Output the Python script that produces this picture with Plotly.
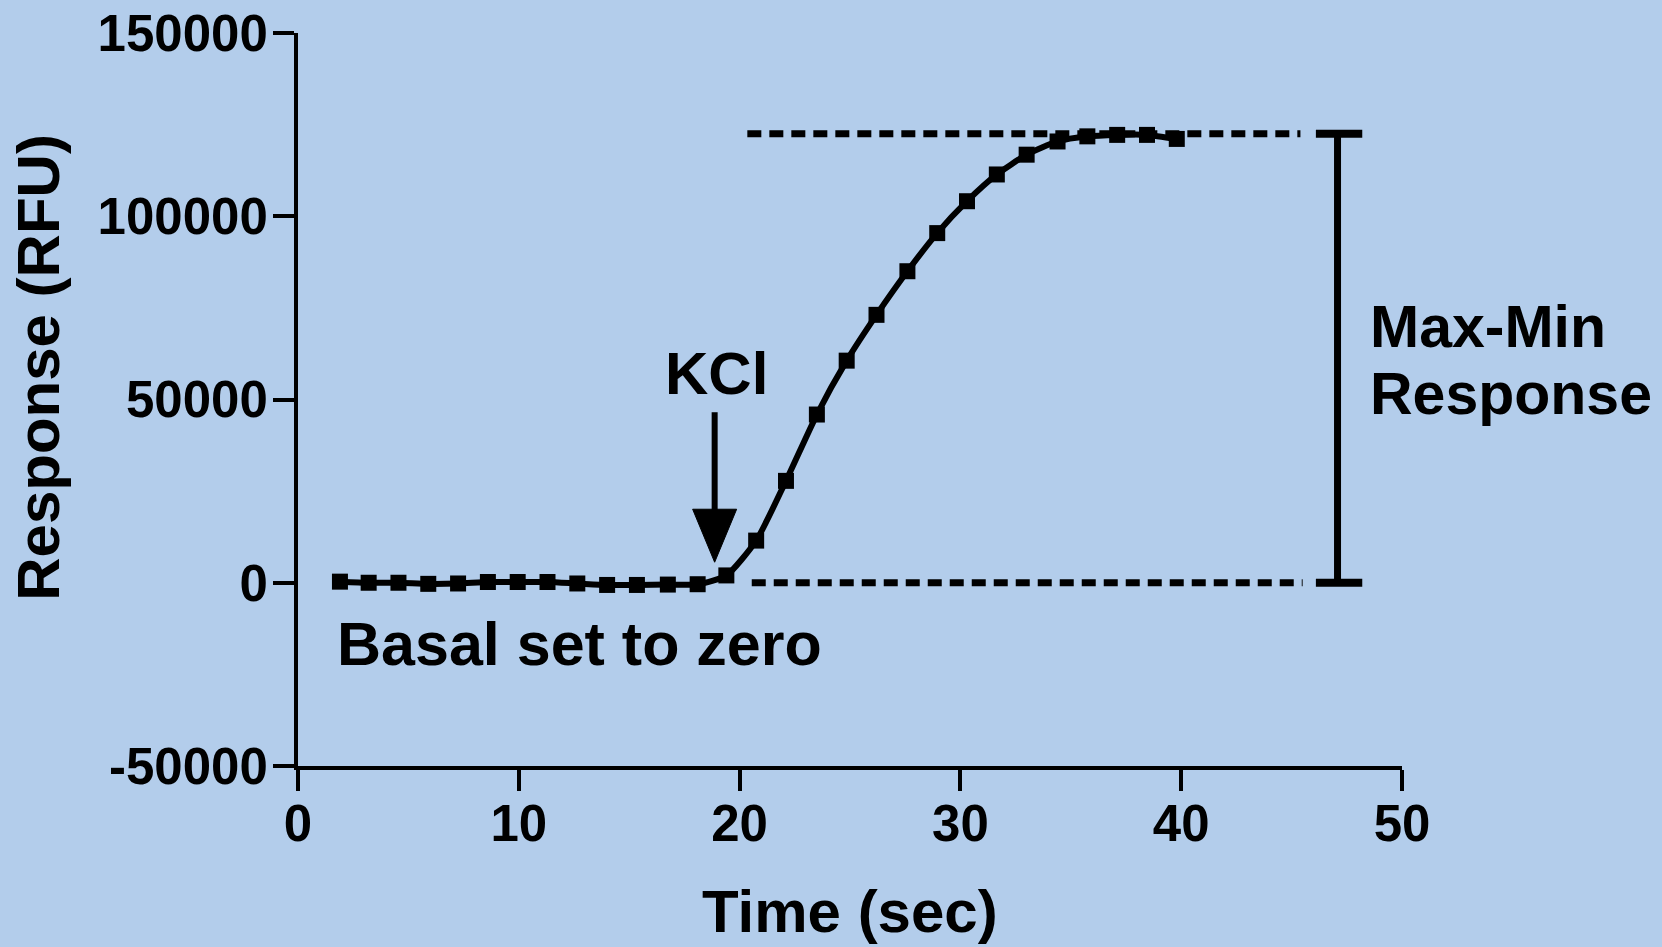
import plotly.graph_objects as go

# ---- data ----
time_sec = [1.9, 3.2, 4.55, 5.9, 7.25, 8.6, 9.95, 11.3, 12.65, 14.0, 15.35, 16.75, 18.1,
            19.4, 20.75, 22.1, 23.5, 24.85, 26.2, 27.6, 28.95, 30.3, 31.65, 33.0, 34.4,
            35.75, 37.1, 38.45, 39.8]
response_rfu = [300, 0, 0, -300, -200, 200, 200, 200, -200, -600, -600, -500, -400,
                2000, 11500, 27800, 45900, 60600, 73100, 85000, 95400, 104100, 111400,
                116800, 120400, 121800, 122200, 122200, 121100]

x_ticks = [0, 10, 20, 30, 40, 50]
y_ticks = [-50000, 0, 50000, 100000, 150000]
y_tick_text = ["-50000", "0", "50000", "100000", "150000"]

basal_level = 0
max_level = 122500
max_line_x = [20.35, 45.4]
basal_line_x = [20.55, 45.5]
bar_x = 47.08
bar_cap = [46.1, 48.2]
kcl_time = 18.87
kcl_tip = 5600

BG = "#B3CDEB"
FONT = "Liberation Sans"

fig = go.Figure()

# dotted reference lines
for xs, lvl in ((max_line_x, max_level), (basal_line_x, basal_level)):
    fig.add_trace(go.Scatter(x=xs, y=[lvl, lvl], mode="lines",
                             line=dict(color="black", width=7, dash="14px,8px"),
                             hoverinfo="skip", showlegend=False))

# Max-Min bracket
fig.add_trace(go.Scatter(x=[bar_x, bar_x], y=[basal_level, max_level], mode="lines",
                         line=dict(color="black", width=7), hoverinfo="skip", showlegend=False))
fig.add_trace(go.Scatter(x=bar_cap, y=[max_level, max_level], mode="lines",
                         line=dict(color="black", width=8), hoverinfo="skip", showlegend=False))
fig.add_trace(go.Scatter(x=bar_cap, y=[basal_level, basal_level], mode="lines",
                         line=dict(color="black", width=8), hoverinfo="skip", showlegend=False))

# data series
fig.add_trace(go.Scatter(x=time_sec, y=response_rfu, mode="lines+markers",
                         line=dict(color="black", width=6, shape="spline", smoothing=0.6),
                         marker=dict(symbol="square", size=16, color="black"),
                         showlegend=False))

# KCl arrow: shaft + head, anchored at the tip
fig.add_shape(type="line", xref="x", yref="y", xsizemode="pixel", ysizemode="pixel",
              xanchor=kcl_time, yanchor=kcl_tip, x0=0, x1=0, y0=50, y1=150,
              line=dict(color="black", width=6))
fig.add_shape(type="path", xref="x", yref="y", xsizemode="pixel", ysizemode="pixel",
              xanchor=kcl_time, yanchor=kcl_tip, path="M-22,53 L22,53 L0,0 Z",
              fillcolor="black", line=dict(color="black", width=1))

big = dict(family=FONT, size=60, color="black", weight="bold")
fig.add_annotation(x=18.96, y=57200, text="KCl", showarrow=False, font=big,
                   xanchor="center", yanchor="middle")
fig.add_annotation(x=1.67, y=-16700, text="Basal set to zero", showarrow=False,
                   font=dict(family=FONT, size=61, color="black", weight="bold"),
                   xanchor="left", yanchor="middle")
mm_font = dict(family=FONT, size=59, color="black", weight="bold")
fig.add_annotation(x=48.45, y=69700, text="Max-Min", showarrow=False, font=mm_font,
                   xanchor="left", yanchor="middle")
fig.add_annotation(x=48.45, y=51500, text="Response", showarrow=False, font=mm_font,
                   xanchor="left", yanchor="middle")

# axis titles
fig.add_annotation(xref="paper", yref="paper", x=0.5, y=-0.198, text="Time (sec)",
                   showarrow=False, font=big, xanchor="center", yanchor="middle")
fig.add_annotation(xref="paper", yref="paper", x=-0.235, y=0.544, text="Response (RFU)",
                   showarrow=False, font=big, textangle=-90,
                   xanchor="center", yanchor="middle")

axis_font = dict(family=FONT, size=51, color="black", weight="bold")
fig.update_layout(
    width=1662, height=947,
    margin=dict(l=298, r=260, t=33, b=181, autoexpand=False),
    paper_bgcolor=BG, plot_bgcolor=BG,
    showlegend=False,
    xaxis=dict(range=[0, 50], tickvals=x_ticks, showgrid=False, zeroline=False,
               automargin=False,
               showline=True, linecolor="black", linewidth=4,
               ticks="outside", ticklen=21, tickwidth=4, tickcolor="black",
               tickfont=axis_font, ticklabelstandoff=-11),
    yaxis=dict(range=[-50000, 150000], tickvals=y_ticks, ticktext=y_tick_text,
               showgrid=False, zeroline=False, automargin=False,
               showline=True, linecolor="black", linewidth=4,
               ticks="outside", ticklen=21, tickwidth=4, tickcolor="black",
               tickfont=axis_font, ticklabelstandoff=-5),
)

fig.write_html("out.html", config={"displayModeBar": False},
               post_script="document.body.style.margin='0';document.body.style.background='" + BG + "';")
